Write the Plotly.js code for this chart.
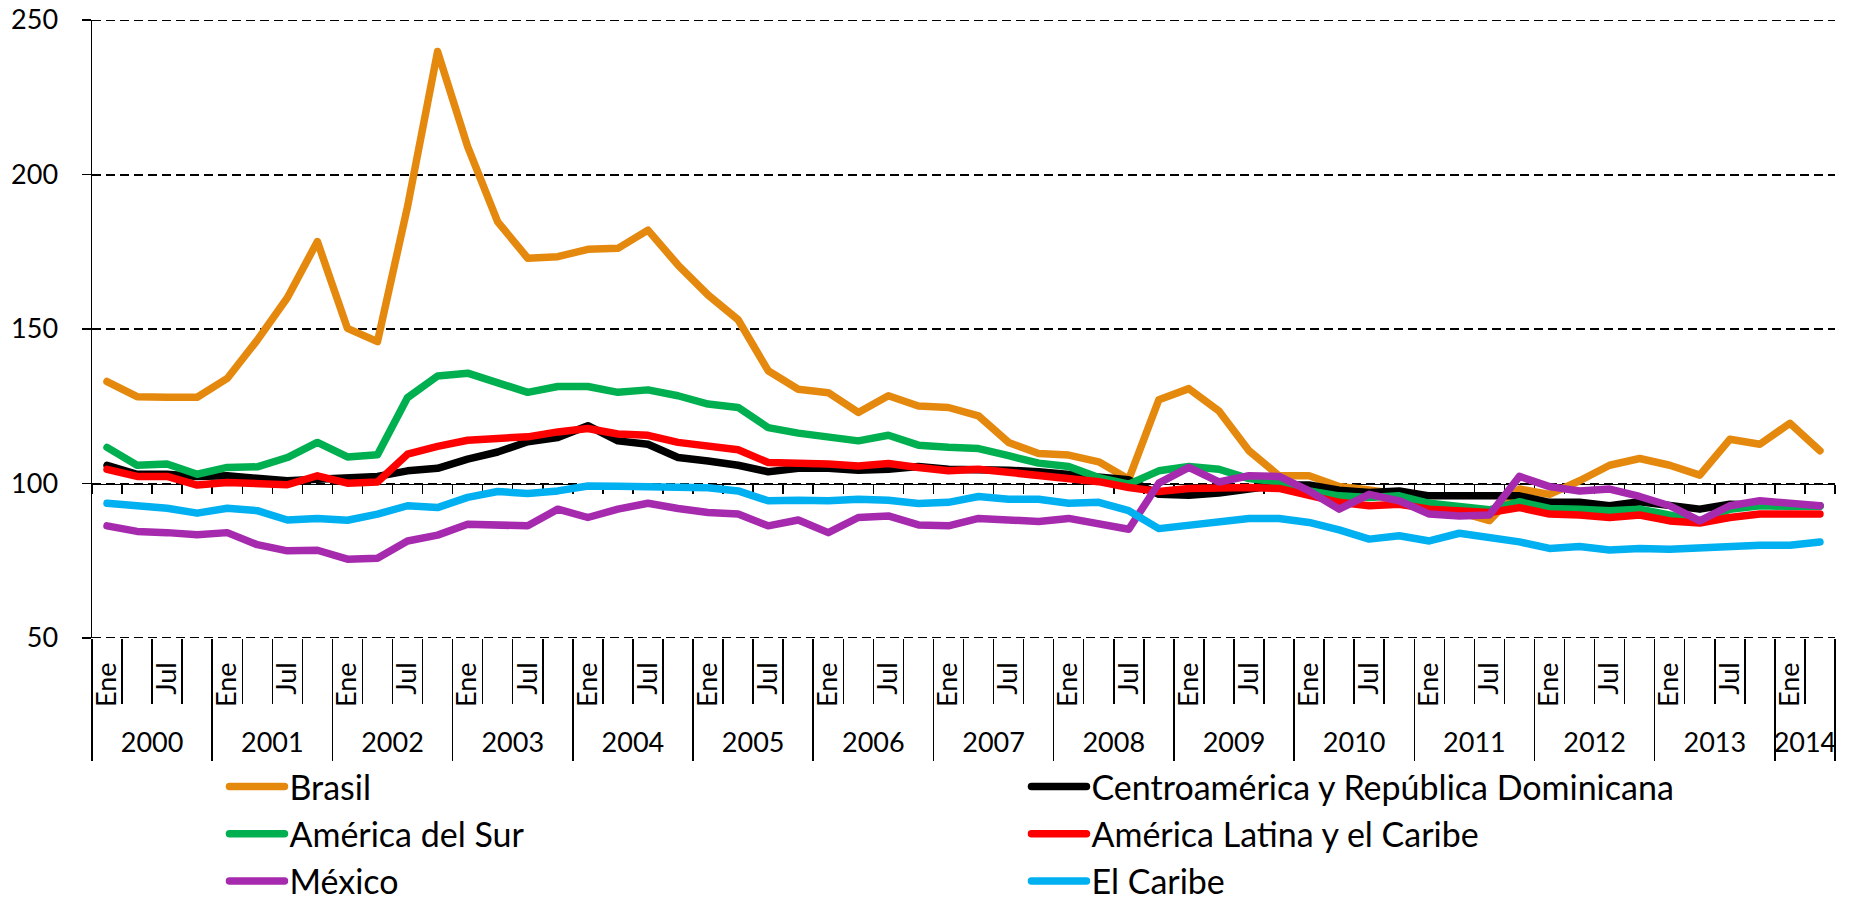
<!DOCTYPE html>
<html>
<head>
<meta charset="utf-8">
<script src="https://cdn.plot.ly/plotly-3.0.1.min.js"></script>
<style>
html,body{margin:0;padding:0;background:#fff;}
#chart{width:1849px;height:903px;}
#chart path.js-line{stroke-linejoin:round;stroke-linecap:round;}
</style>
</head>
<body>
<div id="chart"></div>
<script>
// Quarterly periods, 2000 Q1 .. 2014 Q2
const years = ["2000","2001","2002","2003","2004","2005","2006","2007","2008","2009","2010","2011","2012","2013","2014"];
const quarterLabels = ["Ene","","Jul",""];
const quartersPerYear = [4,4,4,4,4,4,4,4,4,4,4,4,4,4,2];
const yTicks = [50,100,150,200,250];

const brasil = [133.0,128.1,127.9,127.9,134.0,146.4,160.1,178.3,150.2,145.9,189.6,239.8,209.0,184.7,172.9,173.4,175.8,176.1,182.0,170.7,
  161.0,153.0,136.5,130.5,129.4,123.0,128.4,125.1,124.6,121.9,113.3,109.7,109.2,107.0,101.4,127.1,130.7,123.5,110.6,102.5,
  102.5,99.0,97.9,96.5,93.5,90.5,88.0,98.2,96.5,100.9,105.9,108.1,105.9,102.7,114.3,112.7,119.5,110.6];
const centroamerica = [105.9,103.0,103.0,102.3,102.5,101.4,100.9,101.4,101.6,102.3,104.1,104.9,107.9,110.2,113.5,114.9,118.7,113.8,112.7,108.4,
  107.3,105.9,103.8,104.9,104.9,104.3,104.6,105.5,104.6,104.6,104.3,103.8,103.0,102.3,101.2,96.5,96.2,96.9,98.4,99.5,
  99.5,97.8,97.1,97.6,96.0,96.3,96.0,96.0,93.9,93.9,92.8,94.1,92.8,91.7,93.3,92.8,92.8,92.8];
const americaSur = [111.7,105.9,106.3,103.0,105.2,105.4,108.4,113.3,108.6,109.3,127.8,134.8,135.7,132.5,129.5,131.4,131.4,129.5,130.3,128.4,
  125.7,124.6,118.1,116.3,115.2,113.8,115.6,112.4,111.7,111.3,109.0,106.6,105.5,101.9,99.8,104.1,105.5,104.6,101.6,100.5,
  97.6,96.0,95.5,96.0,93.6,92.8,91.5,94.1,91.9,91.7,91.2,91.7,89.8,87.9,91.7,92.8,92.6,92.6];
const americaLatina = [104.6,102.3,102.3,99.5,100.3,99.8,99.6,102.5,100.1,100.5,109.5,112.0,114.0,114.6,115.1,116.7,117.8,116.0,115.6,113.3,
  112.0,110.9,106.8,106.8,106.3,105.7,106.5,105.2,104.1,104.6,103.6,102.8,101.9,100.6,98.7,97.4,98.4,98.7,98.7,98.4,
  96.0,93.9,92.8,93.3,91.7,91.2,90.6,92.2,90.1,89.8,89.0,89.8,87.9,87.2,89.0,90.1,90.1,90.1];
const mexico = [86.3,84.5,84.1,83.4,84.1,80.2,78.2,78.4,75.5,75.8,81.4,83.3,86.8,86.6,86.3,91.7,89.0,91.7,93.6,91.9,
  90.6,90.1,86.3,88.2,84.1,89.0,89.5,86.6,86.3,88.7,88.1,87.7,88.7,87.1,85.2,100.1,105.2,100.5,102.5,102.3,
  97.6,91.7,96.5,94.4,90.1,89.5,89.8,102.3,99.0,97.6,98.2,95.8,92.8,87.9,92.8,94.4,93.3,92.8];
const caribe = [93.6,93.1,92.0,90.4,92.0,91.2,88.2,88.7,88.1,90.1,92.8,92.2,95.5,97.4,96.8,97.6,99.2,99.1,99.0,98.5,
  98.6,97.6,94.4,94.6,94.4,94.9,94.6,93.5,93.9,95.8,94.9,94.9,93.6,93.9,91.2,85.4,86.3,87.6,88.7,88.7,
  87.4,85.0,82.0,83.1,81.4,83.9,82.8,81.1,79.0,79.6,78.5,79.0,78.7,79.3,79.6,80.0,80.0,81.1];

const seriesNames = ["Brasil","Centroamérica y República Dominicana","América del Sur","América Latina y el Caribe","México","El Caribe"];
const seriesData = [brasil, centroamerica, americaSur, americaLatina, mexico, caribe];
const seriesColors = ["#E5890E","#000000","#00B050","#FF0000","#A62AAE","#00B0F0"];

// derived category structure
const idx = [], qText = [], boundaries = [-0.5], yearBounds = [-0.5], yearCenters = [];
let k = 0;
years.forEach((y, yi) => {
  const n = quartersPerYear[yi];
  const start = k;
  for (let q = 0; q < n; q++) {
    idx.push(k); qText.push(quarterLabels[q]);
    boundaries.push(k + 0.5);
    k++;
  }
  yearBounds.push(k - 0.5);
  yearCenters.push((start + k - 1) / 2);
});
const xr = [-0.5, k - 0.5];
const yr = [yTicks[0], yTicks[yTicks.length - 1]];

const FONT = "Lato, 'Open Sans', sans-serif";
const tickSize = 27;
const GRID_DASH = "9px,5px";

const traces = seriesData.map((d, i) => ({
  type: "scatter", mode: "lines", x: idx, y: d, name: seriesNames[i],
  line: {color: seriesColors[i], width: 7.5},
  hoverinfo: "x+y+name"
}));

// gridlines at the two ends of the value range (Plotly skips grid at the range edges)
const edgeGrid = yr.map(v => ({
  type: "line", xref: "paper", yref: "y", x0: 0, x1: 1, y0: v, y1: v, layer: "below",
  line: {color: "#000", width: 2, dash: GRID_DASH}
}));

const layout = {
  width: 1849, height: 903,
  margin: {l: 92, r: 14, t: 20, b: 265, autoexpand: false},
  paper_bgcolor: "#fff", plot_bgcolor: "#fff",
  font: {family: FONT, color: "#000", size: tickSize},
  showlegend: true,
  shapes: edgeGrid,
  legend: {
    orientation: "h", x: 0.076, xanchor: "left", y: -0.194, yanchor: "top",
    entrywidth: 732, entrywidthmode: "pixels", itemwidth: 55,
    bgcolor: "rgba(0,0,0,0)",
    font: {family: FONT, size: 34, color: "#000"},
    traceorder: "normal"
  },
  yaxis: {
    range: yr, tickvals: yTicks, ticktext: yTicks.map(String),
    showgrid: true, gridcolor: "#000", griddash: GRID_DASH, gridwidth: 2,
    showline: true, linecolor: "#000", linewidth: 1.5,
    ticks: "outside", ticklen: 9, tickwidth: 1.5, tickcolor: "#000",
    ticklabelstandoff: 18, zeroline: false, fixedrange: true,
    tickfont: {family: FONT, size: tickSize, color: "#000"}
  },
  xaxis: {
    range: xr, tickmode: "array", tickvals: idx, ticktext: qText, tickangle: -90,
    showgrid: false, zeroline: false, showline: false, ticks: "", anchor: "y",
    ticklabelstandoff: 18,
    tickfont: {family: FONT, size: tickSize, color: "#000"}
  },
  xaxis2: {
    overlaying: "x", anchor: "free", position: 0.25, range: xr, tickmode: "array",
    tickvals: boundaries, showticklabels: false, showgrid: false, zeroline: false,
    showline: true, linecolor: "#000", linewidth: 1.5, ticks: "outside", ticklen: 9,
    tickwidth: 1.5, tickcolor: "#000", layer: "below traces"
  },
  xaxis3: {
    overlaying: "x", anchor: "y", range: xr, tickmode: "array", tickvals: boundaries,
    showticklabels: false, showgrid: false, zeroline: false, showline: false,
    ticks: "outside", ticklen: 65, tickwidth: 1.5, tickcolor: "#000"
  },
  xaxis4: {
    overlaying: "x", anchor: "y", range: xr, tickmode: "array", tickvals: yearBounds,
    showticklabels: false, showgrid: false, zeroline: false, showline: false,
    ticks: "outside", ticklen: 122, tickwidth: 1.5, tickcolor: "#000"
  },
  xaxis5: {
    overlaying: "x", anchor: "y", range: xr, tickmode: "array", tickvals: yearCenters, ticktext: years,
    showgrid: false, zeroline: false, showline: false,
    ticks: "outside", ticklen: 81, tickcolor: "rgba(0,0,0,0)", tickangle: 0,
    tickfont: {family: FONT, size: tickSize, color: "#000"}
  }
};

// invisible traces so the overlay axes are drawn
["x2","x3","x4","x5"].forEach(ax => {
  traces.push({type: "scatter", mode: "none", x: [0], y: [null], xaxis: ax, yaxis: "y", showlegend: false, hoverinfo: "skip"});
});

Plotly.newPlot("chart", traces, layout, {displayModeBar: false, staticPlot: true});
</script>
</body>
</html>
